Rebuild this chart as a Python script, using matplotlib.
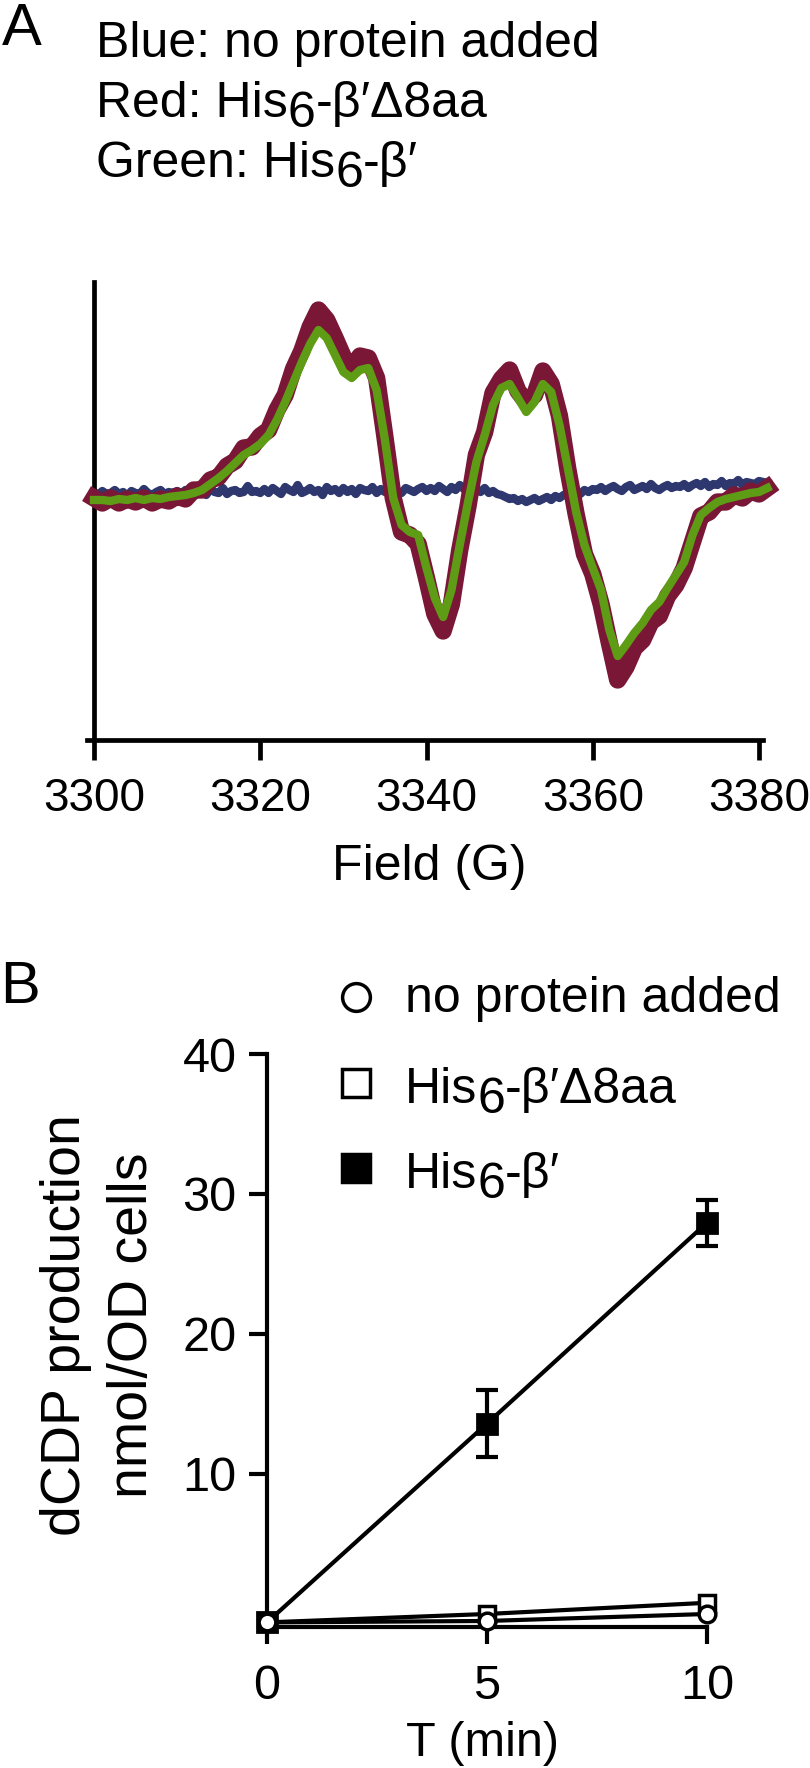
import numpy as np
import matplotlib
matplotlib.use('Agg')
import matplotlib.pyplot as plt

plt.rcParams['font.family'] = ['Liberation Sans', 'DejaVu Sans']

W, H = 810, 1768  # picture size in pixels

# ---------------- panel A: EPR spectra (arbitrary units) ----------------
field = np.arange(3300, 3382)             # 1 G steps, 3300..3381
field_blue = np.arange(3300, 3381.5, 0.5)  # 0.5 G steps

red_trace = [-8, -13, -8, -13, -9, -12, -8, -13, -9, -11,
             -6, -9, 0, 0, 10, 13, 24, 29, 42, 43,
             54, 60, 80, 95, 121, 139, 163, 180, 170, 152,
             133, 122, 134, 132, 112, 53, -8, -42, -45, -54,
             -88, -124, -141, -114, -60, -16, 35, 58, 97, 111,
             120, 99, 88, 95, 119, 106, 74, 21, -24, -64,
             -84, -114, -153, -190, -177, -158, -150, -132, -126, -106,
             -95, -78, -52, -26, -22, -12, -12, -5, -8, -1,
             -4, 2]

green_trace = [-10, -10, -11, -9, -10, -8, -10, -8, -9, -7,
               -6, -5, -3, 0, 6, 12, 19, 27, 35, 40,
               46, 55, 70, 88, 108, 128, 146, 160, 152, 135,
               118, 112, 120, 122, 100, 50, -8, -35, -42, -45,
               -78, -108, -127, -100, -55, -12, 28, 55, 85, 102,
               106, 92, 78, 88, 106, 98, 65, 22, -22, -55,
               -78, -100, -140, -166, -155, -143, -133, -120, -112, -98,
               -85, -72, -45, -25, -18, -12, -9, -7, -5, -3,
               -2, 2]

blue_trace = [-2, -5, -1, -4, -3, 0, -4, -2, -6, -1, -3, -4, 1, -3, -5, -2, 0, -4, -2, -3, -1,
              -4, 0, -2, 3, -3, -1, -5, 1, -2, -3, 2, -4, -1, 0, -3, -2, 4, -2, -1, -3,
              1, -3, 2, -1, -4, 3, 0, -2, 5, -3, -1, 2, -2, 0, -5, 3, -1, 1, -3, 2,
              -2, 1, -4, 2, 0, -1, 3, -3, 1, -2, 0, 4, -1, -3, 2, 0, -2, 1, 3, -1,
              2, -1, 4, 1, -2, 3, 0, 5, 1, -1, 3, 0, -2, 2, -3, -1, -4, -5, -7, -9,
              -8, -11, -9, -12, -10, -8, -11, -9, -7, -10, -6, -8, -5, -3, -6, -2, -4, 0, -2, 1,
              0, 3, -1, 2, 4, 1, -1, 3, 5, 0, 2, 4, 1, 6, 2, 0, 3, 5, 2, 4,
              3, 6, 2, 5, 7, 4, 8, 3, 6, 5, 9, 4, 7, 6, 10, 5, 8, 7, 6, 9, 8, 7]

field_ticks = [3300, 3320, 3340, 3360, 3380]

# ---------------- panel B: dCDP production ----------------
time_min = [0, 5, 10]
no_protein = [-0.6, -0.5, 0.0]
delta8aa = [-0.6, 0.0, 0.8]
his_beta = [-0.6, 13.6, 27.95]
his_beta_err = [0.0, 2.4, 1.65]


def piece_text(ax, x_px, y_px, parts, size):
    # draws text pieces one after another, a piece's shift (pt) moves it down
    t = ax.annotate(parts[0][0], xy=(x_px / W, 1 - y_px / H), xycoords='figure fraction',
                    fontsize=size, ha='left', va='baseline')
    prev = parts[0][1]
    for s, shift in parts[1:]:
        t = ax.annotate(s, xy=(1, 0), xycoords=t, xytext=(0, prev - shift),
                        textcoords='offset points', fontsize=size, ha='left', va='bottom')
        prev = shift
    return t


fig = plt.figure(figsize=(W / 100, H / 100), dpi=100)

# ---- panel A
ax_a = fig.add_axes([87 / W, 1 - 740 / H, 676 / W, 458 / H])
ax_a.plot(field_blue, blue_trace, color='#2e376e', lw=6, clip_on=False, zorder=2)
ax_a.plot(field, red_trace, color='#7a1737', lw=12.5, clip_on=False, zorder=3)
ax_a.plot(field, green_trace, color='#5f9c15', lw=6, clip_on=False, zorder=4)

ax_a.set_xlim(3300 - 7 / 8.3125, 3380 + 4 / 8.3125)
ax_a.set_ylim(-250, 208)
ax_a.spines['top'].set_visible(False)
ax_a.spines['right'].set_visible(False)
ax_a.spines['left'].set_position(('data', 3300))
for s in ['left', 'bottom']:
    ax_a.spines[s].set_linewidth(3.4)
ax_a.set_yticks([])
ax_a.set_xticks(field_ticks)
ax_a.tick_params(axis='x', length=14.4, width=3.4, pad=12, labelsize=33)
ax_a.set_xlabel('Field (G)', fontsize=36)
ax_a.xaxis.set_label_coords(0.507, -0.227)

fig.text(0.002, 1 - 45 / H, 'A', fontsize=43, va='baseline')
piece_text(ax_a, 96, 57, [('Blue: no protein added', 0)], 36)
piece_text(ax_a, 96, 117, [('Red: His', 0), ('6', 7), ('-β′Δ8aa', 0)], 36)
piece_text(ax_a, 96, 177, [('Green: His', 0), ('6', 7), ('-β′', 0)], 36)

# ---- panel B
ax_b = fig.add_axes([267 / W, 1 - 1627 / H, 440 / W, 573 / H])
ax_b.plot(time_min, his_beta, '-s', color='k', lw=3, ms=15, mfc='k', mec='k', mew=2,
          clip_on=False, zorder=3)
eb = ax_b.errorbar(time_min[1:], his_beta[1:], yerr=his_beta_err[1:], fmt='none',
                   ecolor='k', elinewidth=3, capsize=8, capthick=3, zorder=3)
for art in eb.lines[1] + eb.lines[2]:
    art.set_clip_on(False)
ax_b.plot(time_min, delta8aa, '-s', color='k', lw=3, ms=12, mfc='white', mec='k', mew=2.5,
          clip_on=False, zorder=4)
ax_b.plot(time_min, no_protein, '-o', color='k', lw=3, ms=12, mfc='white', mec='k', mew=2.5,
          clip_on=False, zorder=5)

ax_b.set_xlim(0, 10)
ax_b.set_ylim(-0.93, 40)
ax_b.spines['top'].set_visible(False)
ax_b.spines['right'].set_visible(False)
for s in ['left', 'bottom']:
    ax_b.spines[s].set_linewidth(3)
ax_b.set_xticks([0, 5, 10])
ax_b.set_yticks([10, 20, 30, 40])
ax_b.tick_params(axis='x', length=12.5, width=3, pad=14, labelsize=35)
ax_b.tick_params(axis='y', length=13, width=3, pad=9, labelsize=35)
ax_b.set_xlabel('T (min)', fontsize=35)
ax_b.xaxis.set_label_coords(0.489, -0.164)
ax_b.set_ylabel('dCDP production\nnmol/OD cells', fontsize=40, linespacing=1.36)
ax_b.yaxis.set_label_coords(-0.246, 0.527)

fig.text(0.0, 1 - 1003 / H, 'B', fontsize=43, va='baseline')

# legend of panel B
legend_marks = [('o', 'white', 997), ('s', 'white', 1083), ('s', 'k', 1168)]
for m, fc, ypx in legend_marks:
    ax_b.plot([356 / W], [1 - ypx / H], m, ms=20, mfc=fc, mec='k', mew=2.5,
              transform=fig.transFigure, clip_on=False)
piece_text(ax_b, 405, 1012, [('no protein added', 0)], 36)
piece_text(ax_b, 405, 1103, [('His', 0), ('6', 7), ('-β′Δ8aa', 0)], 36)
piece_text(ax_b, 405, 1188, [('His', 0), ('6', 7), ('-β′', 0)], 36)

fig.savefig('out.png', dpi=100)
